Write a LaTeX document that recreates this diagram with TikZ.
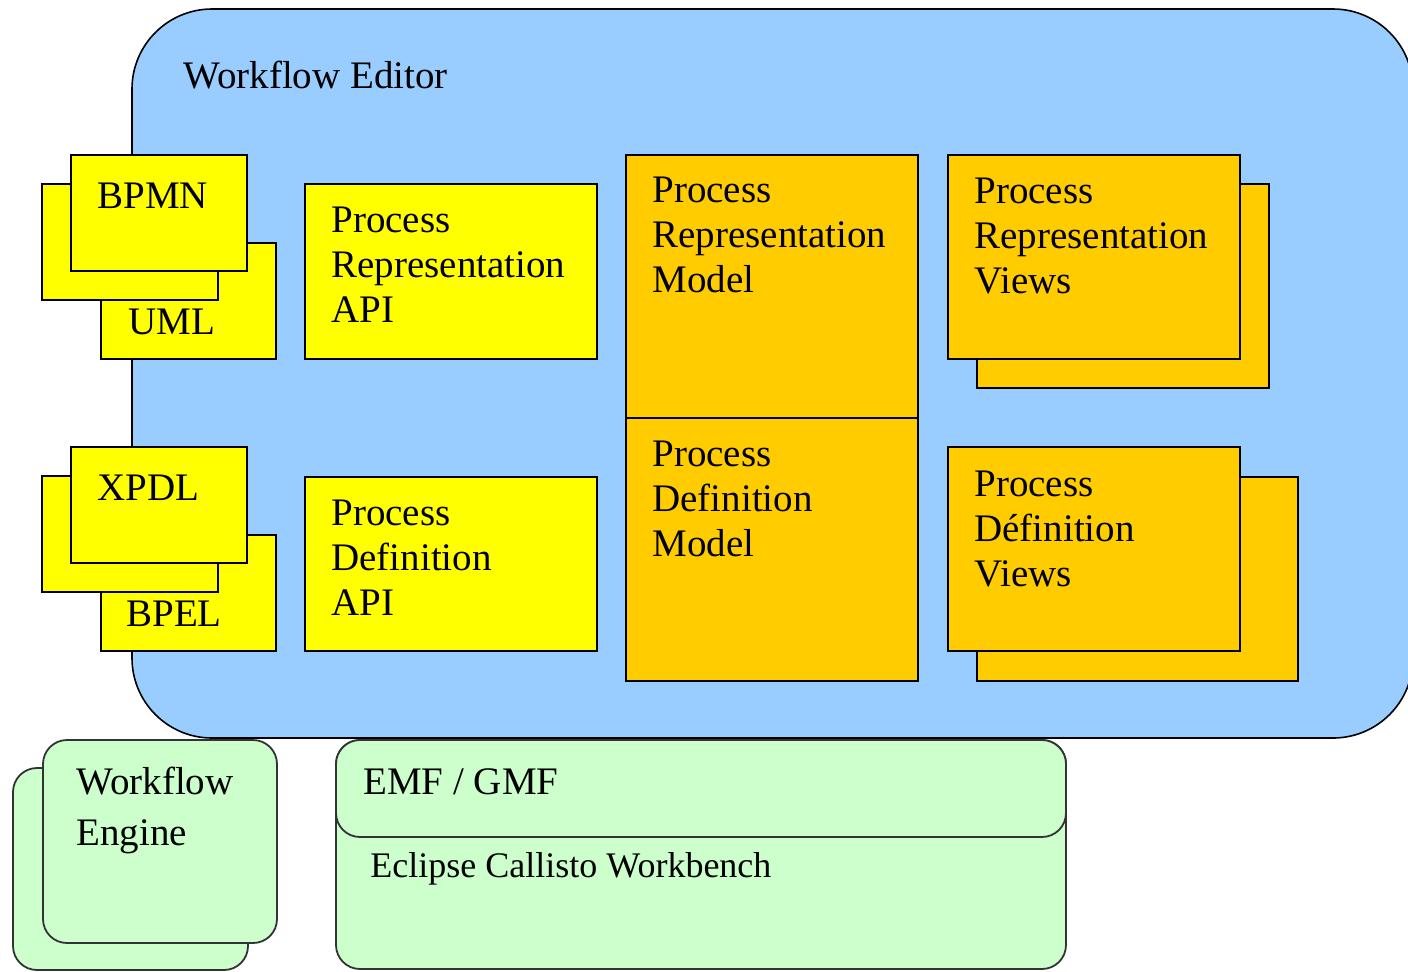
\documentclass[tikz,border=0pt]{standalone}
\usepackage{fontspec}
\setmainfont{Liberation Serif}
\definecolor{editorblue}{HTML}{99CCFF}
\definecolor{apiyellow}{HTML}{FFFF00}
\definecolor{modelorange}{HTML}{FFCC00}
\definecolor{basegreen}{HTML}{CCFFCC}
\begin{document}
\begin{tikzpicture}[x=0.5pt,y=-0.5pt,
  lbl/.style={anchor=north west, inner sep=0pt, align=left, font=\fontsize{19.5}{22.5}\selectfont},
  lblwide/.style={lbl, font=\fontsize{19.5}{25.5}\selectfont},
  lblsmall/.style={lbl, font=\fontsize{18}{22.5}\selectfont},
  editorbox/.style={draw=black, line width=0.8pt, fill=editorblue, rounded corners=40pt},
  ybox/.style={draw=black, line width=1pt, fill=apiyellow},
  obox/.style={draw=black, line width=1pt, fill=modelorange},
  gbox/.style={draw=black!80, line width=0.9pt, fill=basegreen, rounded corners=12pt}]
\useasboundingbox (0,0) rectangle (1408,971);

% Workflow editor container
\path[editorbox] (132,9) rectangle (1413,738);
\node[lbl] (editor) at (183,61) {Workflow Editor};

% BPMN / UML stack
\path[ybox] (101,243) rectangle (276,359);
\path[ybox] (42,184) rectangle (218,300);
\path[ybox] (71,155) rectangle (247,271);
\node[lbl] (bpmn) at (97,183) {BPMN};
\node[lbl] (uml) at (128,309) {UML};

% XPDL / BPEL stack
\path[ybox] (101,535) rectangle (276,651);
\path[ybox] (42,476) rectangle (218,592);
\path[ybox] (71,447) rectangle (247,563);
\node[lbl] (xpdl) at (97,475) {XPDL};
\node[lbl] (bpel) at (126,601) {BPEL};

% APIs
\path[ybox] (305,184) rectangle (597,359);
\node[lbl] (prapi) at (331,207) {Process\\Representation\\API};
\path[ybox] (305,477) rectangle (597,651);
\node[lbl] (pdapi) at (331,500) {Process\\Definition\\API};

% Models
\path[obox] (626,155) rectangle (918,418);
\node[lbl] (prmodel) at (652,177) {Process\\Representation\\Model};
\path[obox] (626,418) rectangle (918,681);
\node[lbl] (pdmodel) at (652,441) {Process\\Definition\\Model};

% Views
\path[obox] (977,184) rectangle (1269,388);
\path[obox] (948,155) rectangle (1240,359);
\node[lbl] (prviews) at (974,178) {Process\\Representation\\Views};
\path[obox] (977,477) rectangle (1298,681);
\path[obox] (948,447) rectangle (1240,651);
\node[lbl] (pdviews) at (974,471) {Process\\Définition\\Views};

% Workflow engine
\path[gbox] (13,768) rectangle (248,970);
\path[gbox] (43,740) rectangle (277,943);
\node[lblwide] (engine) at (76,767) {Workflow\\Engine};

% Eclipse workbench
\path[gbox] (336,740) rectangle (1066,969);
\path[gbox] (336,740) rectangle (1066,837);
\node[lbl] (emf) at (363,768) {EMF / GMF};
\node[lblsmall] (eclipse) at (370,852) {Eclipse Callisto Workbench};
\end{tikzpicture}
\end{document}
